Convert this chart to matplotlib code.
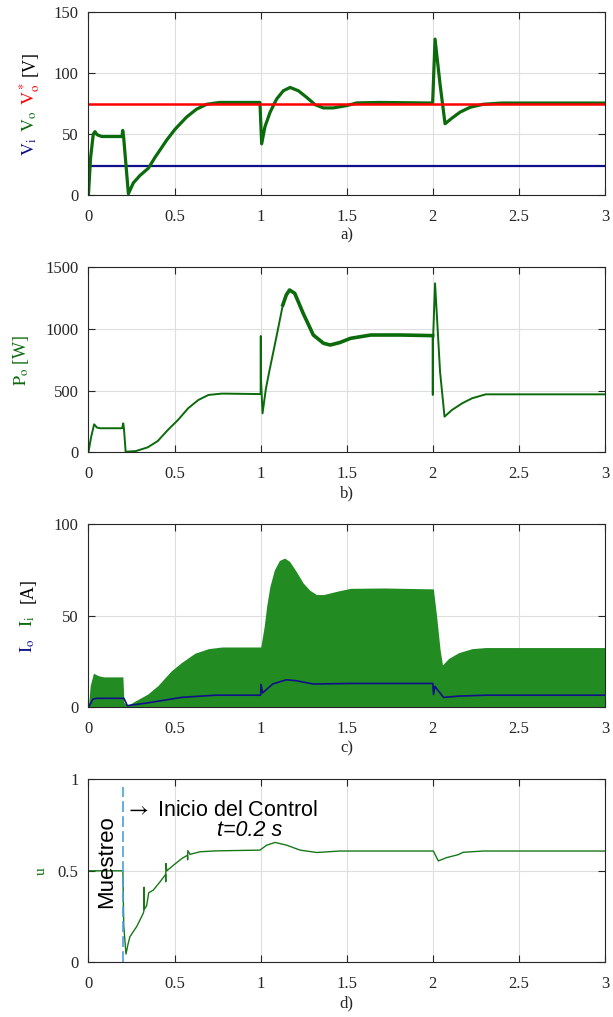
import matplotlib
matplotlib.use('Agg')
import matplotlib.pyplot as plt
import matplotlib.transforms as mtransforms
import numpy as np

plt.rcParams['font.family'] = ['Liberation Serif', 'DejaVu Serif']
plt.rcParams['mathtext.fontset'] = 'stix'

# ---------------- data ----------------
x_ticks = [0, 0.5, 1, 1.5, 2, 2.5, 3]
x_tick_labels = ['0', '0.5', '1', '1.5', '2', '2.5', '3']

# panel a) voltages
vi_t = [0, 3]
vi_v = [24, 24]
vref_t = [0, 3]
vref_v = [75, 75]
vo_t = [0, 0.012, 0.028, 0.038, 0.05, 0.077, 0.195, 0.199, 0.204, 0.232, 0.261, 0.299,
        0.348, 0.387, 0.416, 0.454, 0.503, 0.57, 0.628, 0.687, 0.764, 0.996, 1.006,
        1.025, 1.055, 1.093, 1.132, 1.171, 1.219, 1.267, 1.316, 1.364, 1.422, 1.5,
        1.558, 1.693, 1.999, 2.013, 2.042, 2.071, 2.11, 2.158, 2.216, 2.293, 2.4, 3.0]
vo_v = [0, 30, 50, 52, 49.5, 48, 48, 53, 48, 1, 10, 16,
        22, 31, 37, 45, 54, 64, 70.5, 74.5, 76, 76, 42,
        56, 68, 78.8, 85.6, 88.3, 85.6, 80.2, 74.2, 71.5, 71.5, 73.4,
        75.6, 76, 75.5, 128, 91, 58.5, 63, 68, 72, 74.5, 75.5, 75.5]

# panel b) output power
po_t = [0, 0.015, 0.033, 0.05, 0.069, 0.196, 0.202, 0.206, 0.216, 0.275, 0.344, 0.403,
        0.461, 0.52, 0.579, 0.638, 0.697, 0.776, 1.0, 1.001, 1.002, 1.011, 1.031, 1.05,
        1.09, 1.129, 1.149, 1.168, 1.198, 1.247, 1.306, 1.365, 1.404, 1.46, 1.522,
        1.64, 1.816, 1.999, 2.0, 2.001, 2.013, 2.042, 2.068, 2.111, 2.17, 2.228,
        2.307, 3.0]
po_v = [0, 120, 227, 200, 195, 195, 235, 195, 5, 10, 40, 92,
        181, 262, 357, 424, 465, 476, 472, 943, 600, 316, 519, 654,
        924, 1195, 1276, 1316, 1289, 1127, 951, 884, 870, 890, 924,
        951, 951, 946, 465, 900, 1370, 654, 289, 343, 397, 438,
        470, 470]
po_ripple_range = (1.12, 1.999)

# panel c) currents (Ii envelope filled, Io line)
ii_t = [0, 0.01, 0.029, 0.059, 0.088, 0.2, 0.206, 0.226, 0.265, 0.344, 0.403, 0.481,
        0.54, 0.618, 0.697, 0.776, 1.001, 1.021, 1.035, 1.054, 1.08, 1.109, 1.139,
        1.168, 1.207, 1.247, 1.286, 1.325, 1.365, 1.443, 1.522, 1.718, 2.003, 2.022,
        2.042, 2.056, 2.091, 2.15, 2.228, 2.307, 3.0]
ii_v = [0, 11.8, 18.6, 17.2, 16.6, 16.6, 2.7, 0.9, 3.1, 7.2, 11.8, 19.9,
        24.4, 29.5, 32, 32.9, 32.9, 44.3, 55.2, 66, 75, 80.1, 81.4,
        79.6, 74.1, 67.8, 63.8, 61.5, 61.5, 63.3, 64.9, 65.1, 64.6, 49.7,
        31.6, 23.1, 26.6, 29.8, 32, 32.6, 32.6]
io_t = [0, 0.026, 0.049, 0.206, 0.226, 0.344, 0.54, 0.736, 1.0, 1.002, 1.011, 1.07,
        1.149, 1.207, 1.306, 1.522, 2.0, 2.004, 2.012, 2.062, 2.15, 2.307, 3.0]
io_v = [0, 4.5, 4.9, 4.9, 0.9, 2.4, 5.4, 6.6, 6.6, 12.5, 7.8, 12.7,
        15, 14.5, 12.7, 13, 13, 7, 11.4, 5.4, 6.1, 6.6, 6.6]

# panel d) duty cycle
u_t = [0, 0.2, 0.205, 0.218, 0.23, 0.241, 0.28, 0.318, 0.322, 0.323, 0.325, 0.338,
       0.35, 0.377, 0.416, 0.448, 0.449, 0.45, 0.455, 0.493, 0.542, 0.575, 0.576,
       0.577, 0.59, 0.648, 0.745, 0.996, 1.035, 1.084, 1.151, 1.229, 1.326, 1.46,
       2.003, 2.032, 2.08, 2.147, 2.176, 2.29, 3.0]
u_v = [0.5, 0.5, 0.2, 0.045, 0.10, 0.14, 0.195, 0.267, 0.28, 0.41, 0.29, 0.31,
       0.38, 0.395, 0.44, 0.48, 0.44, 0.54, 0.50, 0.53, 0.567, 0.585, 0.56,
       0.61, 0.59, 0.604, 0.609, 0.613, 0.64, 0.655, 0.64, 0.613, 0.6, 0.608,
       0.608, 0.554, 0.572, 0.588, 0.601, 0.608, 0.608]
t_control = [0.2, 0.2]
marker_v = [0, 0.96]

# ---------------- figure ----------------
W, H = 613, 1017
fig = plt.figure(figsize=(W / 100, H / 100), dpi=100)

C_GREEN = '#0b6b0b'
C_FILL = '#228b22'
C_NAVY = '#10108a'
C_RED = '#ff0000'
C_TXT = '#262626'


def add_ax(top, bottom, left=88.45, right=605):
    return fig.add_axes([left / W, 1 - bottom / H, (right - left) / W, (bottom - top) / H])


def style(ax, yticks, ytick_labels, ylim, caption):
    ax.set_xlim(0, 3)
    ax.set_ylim(*ylim)
    ax.set_xticks(x_ticks)
    ax.set_xticklabels(x_tick_labels)
    ax.set_yticks(yticks)
    ax.set_yticklabels(ytick_labels)
    ax.grid(True, color='#dedede', lw=0.8)
    ax.set_axisbelow(True)
    ax.tick_params(direction='in', top=True, right=True, length=5, width=0.8,
                   labelsize=12, colors=C_TXT)
    ax.tick_params(axis='y', pad=7)
    ax.tick_params(axis='x', pad=10)
    for s in ax.spines.values():
        s.set_color(C_TXT)
        s.set_linewidth(0.8)
    ax.set_xlabel(caption, fontsize=12, labelpad=2, color=C_TXT)


renderer = fig.canvas.get_renderer()


def stacked_label(ax, pieces, x_px, fontsize=13, gap_px=5):
    arts = []
    for s, c in pieces:
        t = fig.text(0, 0, s, color=c, fontsize=fontsize, rotation=90,
                     rotation_mode='anchor', ha='left', va='baseline',
                     transform=mtransforms.IdentityTransform())
        arts.append(t)
    lens = [a.get_window_extent(renderer).height for a in arts]
    total = sum(lens) + gap_px * (len(arts) - 1)
    bb = ax.get_window_extent(renderer)
    y = (bb.y0 + bb.y1) / 2 - total / 2
    for a, L in zip(arts, lens):
        a.set_position((x_px, y))
        y += L + gap_px


# a)
ax1 = add_ax(12.3, 195)
ax1.plot(vi_t, vi_v, color=C_NAVY, lw=1.6)
ax1.plot(vo_t, vo_v, color=C_GREEN, lw=2.3)
ax1.plot(vref_t, vref_v, color=C_RED, lw=1.8)
style(ax1, [0, 50, 100, 150], ['0', '50', '100', '150'], (0, 150), 'a)')

# b)
ax2 = add_ax(267.3, 452.3)
ax2.plot(po_t, po_v, color=C_GREEN, lw=1.4)
po_t_arr = np.array(po_t)
po_mask = (po_t_arr >= po_ripple_range[0]) & (po_t_arr <= po_ripple_range[1])
ax2.plot(po_t_arr[po_mask], np.array(po_v)[po_mask], color=C_GREEN, lw=2.6)
style(ax2, [0, 500, 1000, 1500], ['0', '500', '1000', '1500'], (0, 1500), 'b)')

# c)
ax3 = add_ax(524, 707.3)
ax3.fill_between(ii_t, 0, ii_v, color=C_FILL, lw=0)
ax3.plot(io_t, io_v, color=C_NAVY, lw=1.2)
style(ax3, [0, 50, 100], ['0', '50', '100'], (0, 100), 'c)')

# d)
ax4 = add_ax(779.3, 962.3)
ax4.plot(u_t, u_v, color='#187818', lw=1.0)
ax4.plot(t_control, marker_v, color='#4a9fe0', lw=1.2, ls=(0, (6.5, 2.5)))
style(ax4, [0, 0.5, 1], ['0', '0.5', '1'], (0, 1), 'd)')
ax4.text(0.108, 0.55, 'Muestreo', rotation=90, ha='center', va='center',
         family='Liberation Sans', fontsize=16, color='black')
ax4.text(0.213, 0.83, r'$\rightarrow$ Inicio del Control', ha='left', va='center',
         family='Liberation Sans', fontsize=15.5, color='black')
ax4.text(0.936, 0.72, 't=0.2 s', ha='center', va='center', style='italic',
         family='Liberation Sans', fontsize=15.5, color='black')

# y labels (pixel coords from bottom-left)
stacked_label(ax1, [(r'$\mathrm{V_i}$', C_NAVY), (r'$\mathrm{V_o}$', C_GREEN),
                    (r'$\mathrm{V_o^*}$', C_RED), ('[V]', 'black')],
              x_px=35, gap_px=6)
stacked_label(ax2, [(r'$\mathrm{P_o}$ [W]', C_GREEN)], x_px=26)
stacked_label(ax3, [(r'$\mathrm{I_o}$', C_NAVY), (r'$\mathrm{I_i}$', C_GREEN),
                    ('[A]', 'black')], x_px=33, gap_px=12)
stacked_label(ax4, [('u', C_GREEN)], x_px=45, fontsize=11)

fig.savefig('out.png', dpi=100)
